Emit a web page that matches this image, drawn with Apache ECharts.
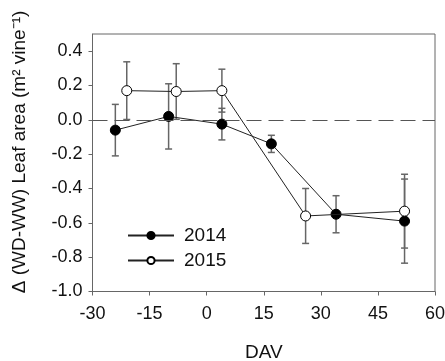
<!DOCTYPE html>
<html><head><meta charset="utf-8">
<script src="https://cdn.jsdelivr.net/npm/echarts@6/dist/echarts.min.js"></script>
<style>html,body{margin:0;padding:0;background:#fff}#c{width:445px;height:361px}</style>
</head><body><div id="c"></div>
<script>
const x2014 = [-24, -10, 4, 17, 34, 52];
const y2014 = [-0.06, 0.02, -0.025, -0.14, -0.55, -0.59];
const e2014 = [0.15, 0.19, 0.092, 0.05, 0.108, 0.245];
const x2015 = [-21, -8, 4, 26, 52];
const y2015 = [0.17, 0.165, 0.17, -0.56, -0.532];
const e2015 = [0.168, 0.162, 0.125, 0.16, 0.215];
const xTicks = [-30, -15, 0, 15, 30, 45, 60];
const yTicks = [-1.0, -0.8, -0.6, -0.4, -0.2, 0.0, 0.2, 0.4];
const seriesNames = ['2014', '2015'];
const xTitle = 'DAV';
const yTitle = 'Δ (WD-WW) Leaf area (m² vine⁻¹)';

const FONT = 'Liberation Sans, Arial, sans-serif';
const chart = echarts.init(document.getElementById('c'));

function pts(xs, ys) { return xs.map((x, i) => [x, ys[i]]); }
function errData(xs, ys, es) { return xs.map((x, i) => [x, ys[i], es[i]]); }
function errRender(params, api) {
  const x = api.value(0), y = api.value(1), e = api.value(2);
  const top = api.coord([x, y + e]);
  const bot = api.coord([x, y - e]);
  const w = 3.5;
  const style = { stroke: '#666', lineWidth: 1.5, fill: null };
  return {
    type: 'group',
    children: [
      { type: 'line', shape: { x1: top[0], y1: top[1], x2: bot[0], y2: bot[1] }, style },
      { type: 'line', shape: { x1: top[0] - w, y1: top[1], x2: top[0] + w, y2: top[1] }, style },
      { type: 'line', shape: { x1: bot[0] - w, y1: bot[1], x2: bot[0] + w, y2: bot[1] }, style }
    ]
  };
}

const option = {
  animation: false,
  backgroundColor: '#fff',
  textStyle: { fontFamily: FONT },
  grid: { left: 92.5, right: 10, top: 34, bottom: 69.5, show: true, borderColor: '#666', borderWidth: 1,
    outerBoundsMode: 'none', containLabel: false },
  xAxis: {
    type: 'value', min: xTicks[0], max: xTicks[xTicks.length - 1], interval: 15,
    splitLine: { show: false },
    axisLine: { onZero: false, lineStyle: { color: '#666', width: 1 } },
    axisTick: { inside: false, length: 4, lineStyle: { color: '#666' } },
    axisLabel: { color: '#111', fontSize: 18, margin: 14, fontFamily: FONT },
    name: xTitle, nameLocation: 'middle', nameGap: 52,
    nameTextStyle: { color: '#111', fontSize: 19, fontFamily: FONT }
  },
  yAxis: {
    type: 'value', min: -1.0, max: 0.5, interval: 0.2,
    splitLine: { show: false },
    axisLine: { show: true, onZero: false, lineStyle: { color: '#666', width: 1 } },
    axisTick: { show: true, length: 4, customValues: yTicks, lineStyle: { color: '#666' } },
    axisLabel: { color: '#111', fontSize: 18, margin: 10, fontFamily: FONT, customValues: yTicks,
      formatter: v => v.toFixed(1) }
  },
  legend: {
    orient: 'vertical', left: 122, top: 221,
    itemWidth: 46, itemHeight: 9, itemGap: 6,
    textStyle: { fontSize: 19, color: '#111', fontFamily: FONT, padding: [0, 0, 0, 5], lineHeight: 19 },
    data: seriesNames
  },
  graphic: [{
    type: 'text', x: 20, y: 152, rotation: Math.PI / 2,
    style: { text: yTitle, fontSize: 19, fontFamily: FONT, fill: '#111', align: 'center', verticalAlign: 'middle' }
  }],
  series: [
    { type: 'custom', name: 'err2014', renderItem: errRender, data: errData(x2014, y2014, e2014), z: 1, silent: true },
    { type: 'custom', name: 'err2015', renderItem: errRender, data: errData(x2015, y2015, e2015), z: 1, silent: true },
    {
      type: 'line', name: seriesNames[0], data: pts(x2014, y2014), z: 3,
      symbol: 'circle', symbolSize: 10, showAllSymbol: true,
      lineStyle: { color: '#222', width: 1 },
      itemStyle: { color: '#000', borderColor: '#000', borderWidth: 1 },
      markLine: {
        silent: true, symbol: 'none', label: { show: false },
        lineStyle: { type: [15, 7], color: '#555', width: 1 },
        data: [{ yAxis: 0 }]
      }
    },
    {
      type: 'line', name: seriesNames[1], data: pts(x2015, y2015), z: 4,
      symbol: 'circle', symbolSize: 10, showAllSymbol: true,
      lineStyle: { color: '#222', width: 1 },
      itemStyle: { color: '#fff', borderColor: '#000', borderWidth: 1 }
    }
  ]
};
chart.setOption(option);
</script></body></html>
